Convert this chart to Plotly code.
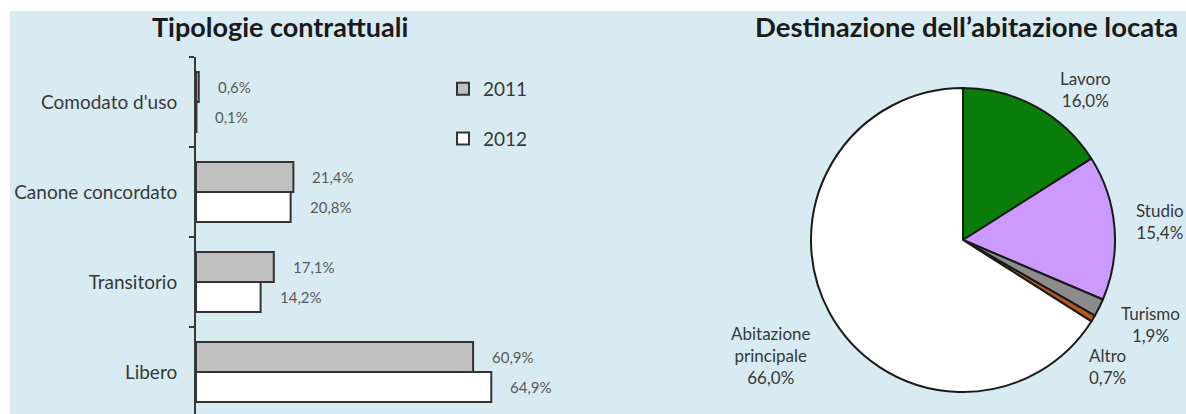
import plotly.graph_objects as go

# --- data -------------------------------------------------------------
categories = ["Comodato d'uso", "Canone concordato", "Transitorio", "Libero"]
values_2011 = [0.6, 21.4, 17.1, 60.9]
values_2012 = [0.1, 20.8, 14.2, 64.9]
years = ["2011", "2012"]

pie_labels = ["Lavoro", "Studio", "Turismo", "Altro", "Abitazione principale"]
pie_values = [16.0, 15.4, 1.9, 0.7, 66.0]
pie_colors = ["#0b7d0b", "#cc99ff", "#8c8c8c", "#b5561f", "#ffffff"]

# --- page geometry (pixels) ------------------------------------------
W, H = 1186, 414
ML, MT = 10, 11            # white strip at left / top
PW, PH = W - ML, H - MT


def px(x):
    return (x - ML) / PW


def py(y):
    return (H - y) / PH


FONT = "Lato, 'Open Sans', sans-serif"
DARK = "#383838"
GREY = "#595959"

fig = go.Figure()

bar_colors = ["#c0c0c0", "#ffffff"]
for name, vals, col in zip(years, [values_2011, values_2012], bar_colors):
    fig.add_trace(go.Bar(
        y=categories, x=vals, name=name, orientation="h",
        marker=dict(color=col, line=dict(color="#333333", width=2)),
        legendgroup=name, xaxis="x", yaxis="y",
        hoverinfo="skip",
    ))

# value labels beside the bars
for vals, shift in [(values_2011, 15), (values_2012, -15)]:
    for cat, v in zip(categories, vals):
        fig.add_annotation(
            x=v, y=cat, xref="x", yref="y", xanchor="left", yanchor="middle",
            xshift=17, yshift=shift, showarrow=False,
            text=f"{v:.1f}%".replace(".", ","),
            font=dict(family=FONT, size=15, color=GREY),
        )

fig.add_trace(go.Pie(
    labels=pie_labels, values=pie_values, sort=False, direction="clockwise",
    rotation=0, textinfo="none", showlegend=False, hoverinfo="skip",
    marker=dict(colors=pie_colors, line=dict(color="#1a1a1a", width=2)),
    domain=dict(x=[px(811), px(1115)], y=[py(392), py(88)]),
))

# pie slice labels
label_pos = {
    "Lavoro": (1085, 90),
    "Studio": (1160, 222),
    "Turismo": (1150, 324),
    "Altro": (1107, 366),
    "Abitazione principale": (771, 355),
}
for lab, v in zip(pie_labels, pie_values):
    x, y = label_pos[lab]
    txt = lab.replace(" ", "<br>") + "<br>" + f"{v:.1f}%".replace(".", ",")
    fig.add_annotation(
        x=px(x), y=py(y), xref="paper", yref="paper", showarrow=False,
        xanchor="center", yanchor="middle", align="center", text=txt,
        font=dict(family=FONT, size=17, color=DARK),
    )

# titles
fig.add_annotation(x=px(280), y=py(26), xref="paper", yref="paper",
                   xanchor="center", yanchor="middle",
                   showarrow=False, text="<b>Tipologie contrattuali</b>",
                   font=dict(family=FONT, size=27, color="#1a1a1a"))
fig.add_annotation(x=px(966), y=py(26), xref="paper", yref="paper",
                   xanchor="center", yanchor="middle",
                   showarrow=False, text="<b>Destinazione dell’abitazione locata</b>",
                   font=dict(family=FONT, size=27.5, color="#1a1a1a"))

# light blue panel
fig.add_shape(type="rect", xref="paper", yref="paper", x0=0, x1=1, y0=0, y1=1,
              fillcolor="#d9ebf2", line=dict(width=0), layer="below")

fig.update_layout(
    width=W, height=H,
    margin=dict(l=ML, r=0, t=MT, b=0, pad=0),
    paper_bgcolor="#ffffff", plot_bgcolor="rgba(0,0,0,0)",
    barmode="group", bargap=1 / 3, bargroupgap=0,
    xaxis=dict(domain=[px(196), px(651)], range=[0, 100], visible=False,
               fixedrange=True),
    yaxis=dict(domain=[0, py(57)], type="category",
               categoryorder="array", categoryarray=categories,
               range=[3.467, -0.5], showline=True, linecolor=DARK, linewidth=2,
               ticks="outside", ticklen=5, tickwidth=2, tickcolor=DARK,
               tickson="boundaries", ticklabelstandoff=13, showgrid=False,
               zeroline=False, tickfont=dict(family=FONT, size=19, color=DARK),
               fixedrange=True),
    legend=dict(x=px(443), y=py(70), xanchor="left", yanchor="top",
                bgcolor="rgba(0,0,0,0)", tracegroupgap=22,
                font=dict(family=FONT, size=19, color=DARK)),
    showlegend=True,
)

fig.write_html("out.html", config={"displayModeBar": False})
